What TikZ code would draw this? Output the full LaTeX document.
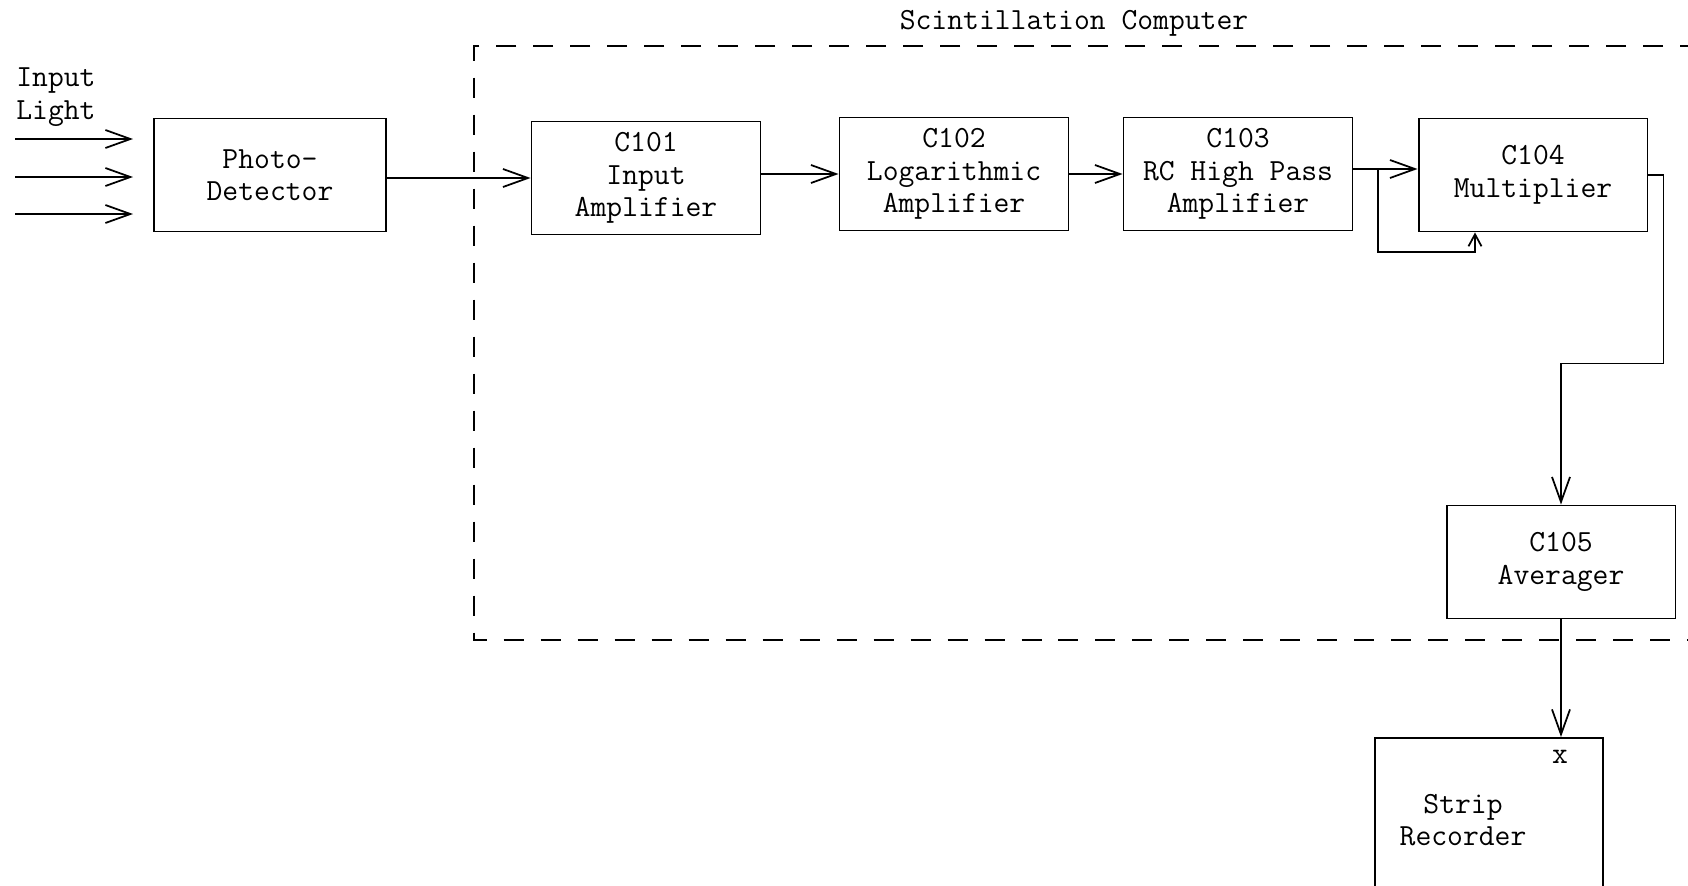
\documentclass[tikz,border=0pt]{standalone}
\usetikzlibrary{arrows.meta,positioning}

\begin{document}
\begin{tikzpicture}[x=0.02cm, y=-0.02cm,
  font=\fontsize{17.5}{18.5}\selectfont\ttfamily,
  block/.style={draw, line width=1.1pt, minimum width=4.58cm,
                minimum height=2.26cm, align=center, inner sep=0pt},
  sig/.style={line width=1pt,
              -{Straight Barb[length=0.5cm, width=0.36cm, line width=1pt]}},
  ]

% page frame (pixel units of the sheet)
\useasboundingbox (0,0) rectangle (1688,886);
\clip (0,0) rectangle (1688,886);

% ======================================================================
% Scintillation computer enclosure
% ======================================================================
\draw[line width=1.1pt, dash pattern=on 0.4cm off 0.34cm]
  (1700,46) -- (474,46) -- (474,640) -- (1700,640);
\node (title) at (1074,23) {Scintillation Computer};

% ======================================================================
% Input light and photodetector
% ======================================================================
\node[anchor=west, align=left, inner sep=0pt] (light) at (16,97)
  {Input\\Light};

\node[block, minimum width=4.64cm] (pd) at (270,175) {Photo-\\Detector};

\foreach \i/\y in {1/139, 2/177, 3/214} {
  \coordinate (in\i) at (15,\y);
  \coordinate (hit\i) at (133,\y);
  \draw[sig] (in\i) -- (hit\i);
}

% ======================================================================
% Main chain C101 ... C104
% ======================================================================
\node[block] (c101) at (646,178) {C101\\Input\\Amplifier};
\node[block] (c102) at (954,174) {C102\\Logarithmic\\Amplifier};
\node[block] (c103) at (1238,174) {C103\\RC High Pass\\Amplifier};
\node[block] (c104) at (1533,175) {C104\\Multiplier};

\draw[sig] (pd.east |- c101.west) -- (c101.west);
\draw[sig] (c101.east |- c102.west) -- (c102.west);
\draw[sig] (c103.west -| c102.east) -- (c103.west);
\draw[sig] (c103.east |- 0,169) -- (c104.west |- 0,169);

% squaring: second input of the multiplier
\coordinate (tap) at (1378,169);
\coordinate (fb) at (1475,252);
\draw[line width=1pt,
      -{Straight Barb[length=0.24cm, width=0.26cm, line width=1pt]}]
  (tap) |- (fb) -- (fb |- c104.south);

% ======================================================================
% Averager and recorder
% ======================================================================
\node[block] (c105) at (1561,562) {C105\\Averager};

\draw[sig] (c104.east) -- ++(15,0) |- ([yshift=2.82cm]c105.north)
  -- (c105.north);

\node[draw, line width=1.1pt, minimum width=4.56cm, minimum height=4cm,
      anchor=north, inner sep=0pt] (rec) at (1489,737) {};
\node[align=center] (rectext) at (1463,820) {Strip\\Recorder};
\node (xin) at (1560,757) {x};

\draw[sig] (c105.south) -- (c105.south |- rec.north);

\end{tikzpicture}
\end{document}
